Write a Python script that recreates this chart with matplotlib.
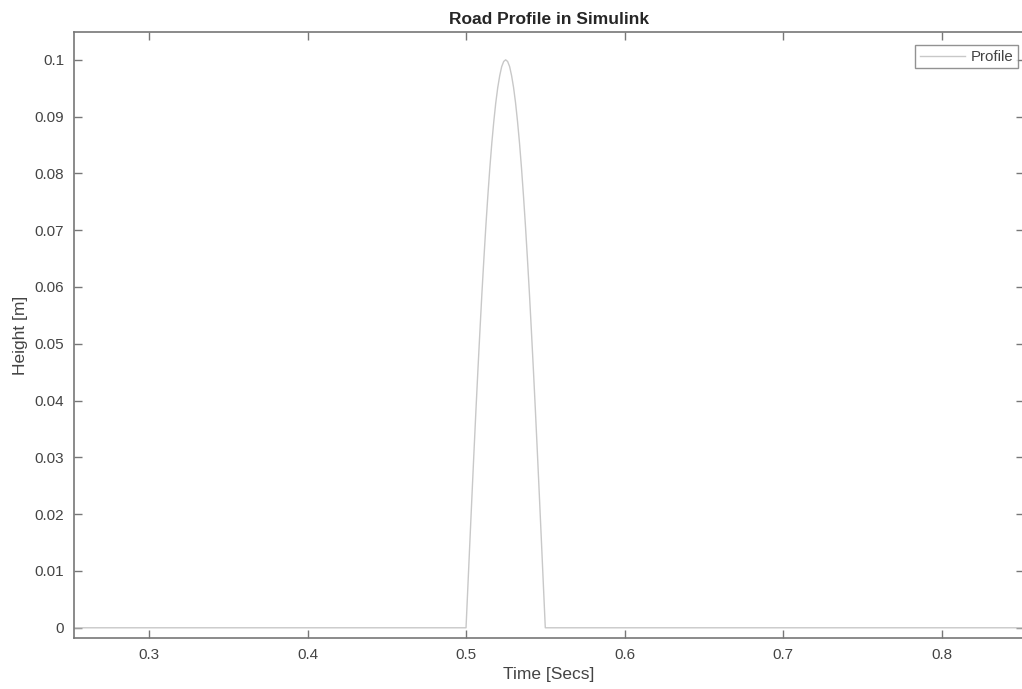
import numpy as np
import matplotlib
matplotlib.use("Agg")
import matplotlib.pyplot as plt
from matplotlib.ticker import FormatStrFormatter

plt.rcParams['font.family'] = ['Liberation Sans', 'DejaVu Sans']

# road bump profile (half-sine, 0.5 s -> 0.55 s, peak 0.1 m)
time_s = [0.0, 0.5,
          0.50125, 0.5025, 0.50375, 0.505, 0.50625, 0.5075, 0.50875, 0.51, 0.51125, 0.5125,
          0.51375, 0.515, 0.51625, 0.5175, 0.51875, 0.52, 0.52125, 0.5225, 0.52375, 0.525,
          0.52625, 0.5275, 0.52875, 0.53, 0.53125, 0.5325, 0.53375, 0.535, 0.53625, 0.5375,
          0.53875, 0.54, 0.54125, 0.5425, 0.54375, 0.545, 0.54625, 0.5475, 0.54875, 0.55,
          1.0]
height_m = [0.0, 0.0,
            0.0078, 0.0156, 0.0233, 0.0309, 0.0383, 0.0454, 0.0522, 0.0588, 0.0649, 0.0707,
            0.0760, 0.0809, 0.0853, 0.0891, 0.0924, 0.0951, 0.0972, 0.0988, 0.0997, 0.1,
            0.0997, 0.0988, 0.0972, 0.0951, 0.0924, 0.0891, 0.0853, 0.0809, 0.0760, 0.0707,
            0.0649, 0.0588, 0.0522, 0.0454, 0.0383, 0.0309, 0.0233, 0.0156, 0.0078, 0.0,
            0.0]

x_ticks = [0.3, 0.4, 0.5, 0.6, 0.7, 0.8]
y_ticks = [0, 0.01, 0.02, 0.03, 0.04, 0.05, 0.06, 0.07, 0.08, 0.09, 0.1]

axis_col = '#777777'
text_col = '#444444'

fig = plt.figure(figsize=(10.22, 6.89), dpi=100)
ax = fig.add_axes([0.0724, 0.074, 0.9296, 0.8796])

ax.plot(time_s, height_m, color='#c8c8c8', lw=1.0, label='Profile')

ax.set_xlim(0.2527, 0.852)
ax.set_ylim(-0.0018, 0.1049)
ax.set_xticks(x_ticks)
ax.set_yticks(y_ticks)
ax.yaxis.set_major_formatter(FormatStrFormatter('%g'))
ax.xaxis.set_major_formatter(FormatStrFormatter('%g'))

ax.tick_params(direction='in', length=6, width=1, colors=axis_col,
               labelcolor=text_col, labelsize=11, top=True, right=True, pad=7)
for sp in ax.spines.values():
    sp.set_color(axis_col)
    sp.set_linewidth(1.2)

ax.set_title('Road Profile in Simulink', fontsize=12.5, fontweight='bold',
             color='#262626', pad=6)
ax.set_xlabel('Time [Secs]', fontsize=12.5, color=text_col, labelpad=4)
ax.set_ylabel('Height [m]', fontsize=12.5, color=text_col, labelpad=5)

leg = ax.legend(loc='upper right', bbox_to_anchor=(0.9935, 0.978), fontsize=10.8,
                frameon=True, fancybox=False, handlelength=3.0, borderpad=0.3,
                handletextpad=0.4, borderaxespad=0)
leg.get_frame().set_edgecolor(axis_col)
leg.get_frame().set_linewidth(1.0)
for t in leg.get_texts():
    t.set_color(text_col)

fig.savefig('out.png', dpi=100)
